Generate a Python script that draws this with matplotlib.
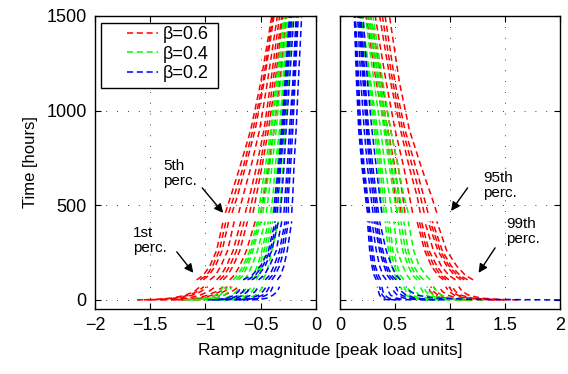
import matplotlib
matplotlib.use('Agg')
import matplotlib.pyplot as plt
from matplotlib.lines import Line2D
from matplotlib.patches import Rectangle

plt.rcParams['font.family'] = ['Liberation Sans', 'DejaVu Sans']

# ---------------- data ----------------
TOP_T = [460, 550, 700, 900, 1150, 1500]
MID_T = [106, 130, 180, 260, 415]
BOT_T = [0, 3, 10, 25, 45, 70]

LABELS = ['\u03b2=0.6', '\u03b2=0.4', '\u03b2=0.2']
COLORS = ['#ff0000', '#00ff00', '#0000ff']

# Left panel (negative ramps)
L_RED_TOP = [[-0.82, -0.77, -0.69, -0.59, -0.50, -0.40],
             [-0.79, -0.74, -0.66, -0.57, -0.48, -0.39],
             [-0.76, -0.71, -0.64, -0.55, -0.47, -0.38],
             [-0.70, -0.66, -0.59, -0.51, -0.44, -0.35],
             [-0.64, -0.60, -0.54, -0.47, -0.41, -0.33],
             [-0.60, -0.57, -0.51, -0.45, -0.39, -0.31],
             [-0.57, -0.54, -0.49, -0.43, -0.37, -0.30],
             [-0.50, -0.47, -0.43, -0.38, -0.33, -0.27]]
L_GRN_TOP = [[-0.52, -0.50, -0.46, -0.41, -0.36, -0.29],
             [-0.50, -0.48, -0.44, -0.40, -0.35, -0.285],
             [-0.48, -0.46, -0.42, -0.38, -0.34, -0.28],
             [-0.45, -0.43, -0.40, -0.36, -0.32, -0.26],
             [-0.41, -0.39, -0.37, -0.33, -0.30, -0.25],
             [-0.39, -0.37, -0.35, -0.32, -0.29, -0.24],
             [-0.37, -0.36, -0.34, -0.31, -0.28, -0.23],
             [-0.33, -0.32, -0.30, -0.28, -0.25, -0.21]]
L_BLU_TOP = [[-0.38, -0.37, -0.34, -0.31, -0.28, -0.24],
             [-0.365, -0.355, -0.33, -0.30, -0.27, -0.23],
             [-0.35, -0.34, -0.32, -0.29, -0.26, -0.22],
             [-0.32, -0.31, -0.29, -0.27, -0.24, -0.20],
             [-0.29, -0.28, -0.26, -0.24, -0.21, -0.18],
             [-0.27, -0.265, -0.245, -0.225, -0.20, -0.17],
             [-0.25, -0.25, -0.23, -0.21, -0.19, -0.16],
             [-0.22, -0.21, -0.20, -0.18, -0.16, -0.13]]
L_RED_MID = [[-1.08, -1.02, -0.96, -0.90, -0.84],
             [-1.05, -0.99, -0.935, -0.875, -0.815],
             [-1.02, -0.97, -0.91, -0.85, -0.79],
             [-0.96, -0.91, -0.86, -0.80, -0.74],
             [-0.90, -0.86, -0.81, -0.75, -0.68],
             [-0.87, -0.83, -0.78, -0.72, -0.65],
             [-0.84, -0.80, -0.75, -0.69, -0.62],
             [-0.78, -0.74, -0.69, -0.63, -0.55]]
L_GRN_MID = [[-0.75, -0.71, -0.66, -0.60, -0.53],
             [-0.72, -0.685, -0.64, -0.585, -0.515],
             [-0.70, -0.66, -0.62, -0.57, -0.50],
             [-0.65, -0.62, -0.58, -0.53, -0.46],
             [-0.60, -0.57, -0.53, -0.49, -0.43],
             [-0.57, -0.545, -0.51, -0.47, -0.41],
             [-0.54, -0.52, -0.49, -0.45, -0.39],
             [-0.48, -0.46, -0.43, -0.40, -0.34]]
L_BLU_MID = [[-0.66, -0.58, -0.50, -0.43, -0.37],
             [-0.62, -0.55, -0.48, -0.415, -0.355],
             [-0.58, -0.52, -0.46, -0.40, -0.34],
             [-0.52, -0.47, -0.42, -0.36, -0.31],
             [-0.46, -0.42, -0.38, -0.33, -0.28],
             [-0.43, -0.395, -0.355, -0.31, -0.265],
             [-0.40, -0.37, -0.33, -0.29, -0.25],
             [-0.35, -0.32, -0.29, -0.26, -0.22]]
L_RED_BOT = [[-1.62, -1.45, -1.30, -1.18, -1.10, -1.05],
             [-1.56, -1.40, -1.265, -1.15, -1.07, -1.015],
             [-1.50, -1.36, -1.23, -1.12, -1.04, -0.98],
             [-1.40, -1.27, -1.15, -1.05, -0.97, -0.91],
             [-1.30, -1.18, -1.07, -0.98, -0.90, -0.84],
             [-1.25, -1.135, -1.03, -0.94, -0.865, -0.805],
             [-1.20, -1.09, -0.99, -0.90, -0.83, -0.77],
             [-1.10, -1.00, -0.91, -0.83, -0.76, -0.70]]
L_GRN_BOT = [[-1.20, -1.08, -0.98, -0.91, -0.87, -0.84],
             [-1.15, -1.035, -0.94, -0.87, -0.83, -0.80],
             [-1.10, -0.99, -0.90, -0.83, -0.79, -0.76],
             [-1.00, -0.91, -0.82, -0.76, -0.72, -0.69],
             [-0.92, -0.83, -0.75, -0.69, -0.65, -0.62],
             [-0.88, -0.795, -0.715, -0.655, -0.615, -0.585],
             [-0.84, -0.76, -0.68, -0.62, -0.58, -0.55],
             [-0.76, -0.68, -0.61, -0.55, -0.51, -0.48]]
L_BLU_BOT = [[-0.98, -0.88, -0.80, -0.74, -0.70, -0.68],
             [-0.94, -0.84, -0.76, -0.70, -0.66, -0.64],
             [-0.90, -0.80, -0.72, -0.66, -0.62, -0.60],
             [-0.82, -0.73, -0.65, -0.59, -0.55, -0.52],
             [-0.74, -0.65, -0.58, -0.52, -0.48, -0.45],
             [-0.70, -0.615, -0.545, -0.485, -0.445, -0.42],
             [-0.66, -0.58, -0.51, -0.45, -0.41, -0.39],
             [-0.58, -0.50, -0.44, -0.39, -0.35, -0.33]]

# Right panel (positive ramps)
R_RED_TOP = [[0.52, 0.50, 0.47, 0.41, 0.33, 0.24],
             [0.555, 0.535, 0.50, 0.435, 0.355, 0.26],
             [0.59, 0.57, 0.53, 0.46, 0.38, 0.28],
             [0.66, 0.63, 0.58, 0.50, 0.42, 0.32],
             [0.73, 0.70, 0.63, 0.55, 0.46, 0.36],
             [0.765, 0.73, 0.66, 0.57, 0.48, 0.385],
             [0.80, 0.76, 0.69, 0.59, 0.50, 0.41],
             [0.88, 0.83, 0.74, 0.63, 0.54, 0.45]]
R_GRN_TOP = [[0.38, 0.37, 0.35, 0.31, 0.26, 0.18],
             [0.40, 0.39, 0.365, 0.325, 0.27, 0.19],
             [0.42, 0.41, 0.38, 0.34, 0.28, 0.20],
             [0.47, 0.45, 0.41, 0.37, 0.31, 0.23],
             [0.52, 0.49, 0.45, 0.40, 0.34, 0.25],
             [0.545, 0.515, 0.47, 0.415, 0.355, 0.265],
             [0.57, 0.54, 0.49, 0.43, 0.37, 0.28],
             [0.62, 0.58, 0.53, 0.46, 0.39, 0.30]]
R_BLU_TOP = [[0.25, 0.23, 0.20, 0.17, 0.15, 0.13],
             [0.26, 0.24, 0.21, 0.18, 0.16, 0.135],
             [0.27, 0.25, 0.22, 0.19, 0.17, 0.14],
             [0.30, 0.28, 0.25, 0.22, 0.19, 0.16],
             [0.32, 0.30, 0.27, 0.24, 0.21, 0.17],
             [0.335, 0.315, 0.285, 0.25, 0.22, 0.18],
             [0.35, 0.33, 0.30, 0.26, 0.23, 0.19],
             [0.38, 0.36, 0.33, 0.29, 0.25, 0.21]]
R_RED_MID = [[0.94, 0.89, 0.83, 0.77, 0.70],
             [0.965, 0.915, 0.855, 0.79, 0.72],
             [0.99, 0.94, 0.88, 0.81, 0.74],
             [1.05, 0.99, 0.92, 0.85, 0.77],
             [1.10, 1.04, 0.97, 0.89, 0.80],
             [1.13, 1.065, 0.99, 0.91, 0.82],
             [1.16, 1.09, 1.01, 0.93, 0.84],
             [1.21, 1.14, 1.06, 0.97, 0.88]]
R_GRN_MID = [[0.52, 0.50, 0.47, 0.44, 0.41],
             [0.55, 0.525, 0.495, 0.46, 0.43],
             [0.58, 0.55, 0.52, 0.48, 0.45],
             [0.64, 0.61, 0.57, 0.52, 0.49],
             [0.70, 0.66, 0.62, 0.57, 0.53],
             [0.73, 0.69, 0.645, 0.595, 0.555],
             [0.76, 0.72, 0.67, 0.62, 0.58],
             [0.82, 0.78, 0.72, 0.67, 0.62]]
R_BLU_MID = [[0.33, 0.31, 0.29, 0.27, 0.25],
             [0.35, 0.33, 0.305, 0.285, 0.26],
             [0.37, 0.35, 0.32, 0.30, 0.27],
             [0.42, 0.39, 0.36, 0.33, 0.29],
             [0.46, 0.43, 0.40, 0.36, 0.31],
             [0.485, 0.45, 0.415, 0.375, 0.325],
             [0.51, 0.47, 0.43, 0.39, 0.34],
             [0.55, 0.51, 0.47, 0.42, 0.36]]
R_RED_BOT = [[1.10, 1.00, 0.92, 0.86, 0.82, 0.80],
             [1.15, 1.04, 0.955, 0.89, 0.85, 0.825],
             [1.20, 1.08, 0.99, 0.92, 0.88, 0.85],
             [1.30, 1.17, 1.06, 0.98, 0.93, 0.90],
             [1.40, 1.26, 1.13, 1.04, 0.99, 0.96],
             [1.45, 1.30, 1.165, 1.07, 1.02, 0.99],
             [1.50, 1.34, 1.20, 1.10, 1.05, 1.02],
             [1.62, 1.44, 1.28, 1.17, 1.11, 1.08]]
R_GRN_BOT = [[0.80, 0.72, 0.65, 0.60, 0.57, 0.55],
             [0.85, 0.76, 0.685, 0.63, 0.60, 0.58],
             [0.90, 0.80, 0.72, 0.66, 0.63, 0.61],
             [1.00, 0.89, 0.79, 0.72, 0.69, 0.67],
             [1.10, 0.97, 0.86, 0.78, 0.75, 0.73],
             [1.15, 1.015, 0.895, 0.815, 0.78, 0.76],
             [1.20, 1.06, 0.93, 0.85, 0.81, 0.79],
             [1.30, 1.15, 1.01, 0.92, 0.88, 0.85]]
R_BLU_BOT = [[0.45, 0.41, 0.38, 0.36, 0.35, 0.34],
             [0.50, 0.45, 0.41, 0.385, 0.37, 0.36],
             [0.55, 0.49, 0.44, 0.41, 0.39, 0.38],
             [0.65, 0.57, 0.51, 0.46, 0.44, 0.43],
             [0.78, 0.67, 0.58, 0.52, 0.49, 0.48],
             [0.86, 0.73, 0.63, 0.56, 0.525, 0.51],
             [0.95, 0.80, 0.68, 0.60, 0.56, 0.54],
             [2.00, 1.20, 0.85, 0.70, 0.64, 0.60]]

L_X_TICKS = [-2, -1.5, -1, -0.5, 0]
R_X_TICKS = [0, 0.5, 1, 1.5, 2]
Y_TICKS = [0, 500, 1000, 1500]

# ---------------- figure ----------------
W, H = 568, 374
fig = plt.figure(figsize=(W / 100, H / 100), dpi=100)
axL = fig.add_axes([95 / W, 1 - 309 / H, 221 / W, 293 / H])
axR = fig.add_axes([340 / W, 1 - 309 / H, 220 / W, 293 / H])

DASH = (0, (4, 2.4))

panels = [
    (axL, [(L_RED_TOP, L_RED_MID, L_RED_BOT),
           (L_GRN_TOP, L_GRN_MID, L_GRN_BOT),
           (L_BLU_TOP, L_BLU_MID, L_BLU_BOT)]),
    (axR, [(R_RED_TOP, R_RED_MID, R_RED_BOT),
           (R_GRN_TOP, R_GRN_MID, R_GRN_BOT),
           (R_BLU_TOP, R_BLU_MID, R_BLU_BOT)]),
]

for ax, groups in panels:
    for (top, mid, bot), col in zip(groups, COLORS):
        for curves, times in ((top, TOP_T), (mid, MID_T), (bot, BOT_T)):
            for xs in curves:
                ax.plot(xs, times, color=col, lw=1.1, ls=DASH, zorder=2)

for ax, xt, xl in ((axL, L_X_TICKS, (-2, 0)), (axR, R_X_TICKS, (0, 2))):
    ax.set_xlim(*xl)
    ax.set_ylim(-48, 1500)
    ax.set_xticks(xt)
    ax.set_xticklabels([('%g' % v).replace('-', '\u2212') for v in xt])
    ax.set_yticks(Y_TICKS)
    ax.grid(True, color='k', linestyle=(0, (1, 12)), linewidth=0.6)
    ax.tick_params(direction='in', length=4, width=0.8, top=True, right=True,
                   labelsize=13, pad=6)
    for s in ax.spines.values():
        s.set_linewidth(1.0)
axR.tick_params(labelleft=False)

# annotations
ann_kw = dict(arrowprops=dict(arrowstyle='-|>', color='k', lw=1.0,
                              mutation_scale=13, shrinkA=0, shrinkB=0))
axL.annotate('', xy=(-0.84, 460), xytext=(-1.03, 592), **ann_kw)
axL.annotate('', xy=(-1.11, 143), xytext=(-1.26, 254), **ann_kw)
axR.annotate('', xy=(1.01, 470), xytext=(1.16, 592), **ann_kw)
axR.annotate('', xy=(1.26, 143), xytext=(1.41, 275), **ann_kw)
tkw = dict(fontsize=11, ha='left', va='top', linespacing=1.1)
axL.text(-1.385, 745, '5th\nperc.', **tkw)
axL.text(-1.656, 391, '1st\nperc.', **tkw)
axR.text(1.30, 681, '95th\nperc.', **tkw)
axR.text(1.509, 438, '99th\nperc.', **tkw)

# legend with MATLAB-like box
handles = [Line2D([], [], color=c, lw=1.1, ls=DASH) for c in COLORS]
fig.patches.append(Rectangle((101 / W, 1 - 88 / H), 117 / W, 65 / H,
                             transform=fig.transFigure, facecolor='white',
                             edgecolor='k', lw=1.0, zorder=5))
leg = fig.legend(handles, LABELS, loc='upper left',
                 bbox_to_anchor=(127 / W, 1 - 26 / H), frameon=False,
                 fontsize=13, handlelength=1.7, handletextpad=0.3,
                 labelspacing=0.15, borderpad=0, borderaxespad=0)
leg.set_zorder(6)

fig.text(30 / W, 1 - 162 / H, 'Time [hours]', rotation=90, fontsize=12,
         ha='center', va='center')
fig.text(330 / W, 1 - 350 / H, 'Ramp magnitude [peak load units]',
         fontsize=12.5, ha='center', va='center')

fig.savefig('out.png', dpi=100)
